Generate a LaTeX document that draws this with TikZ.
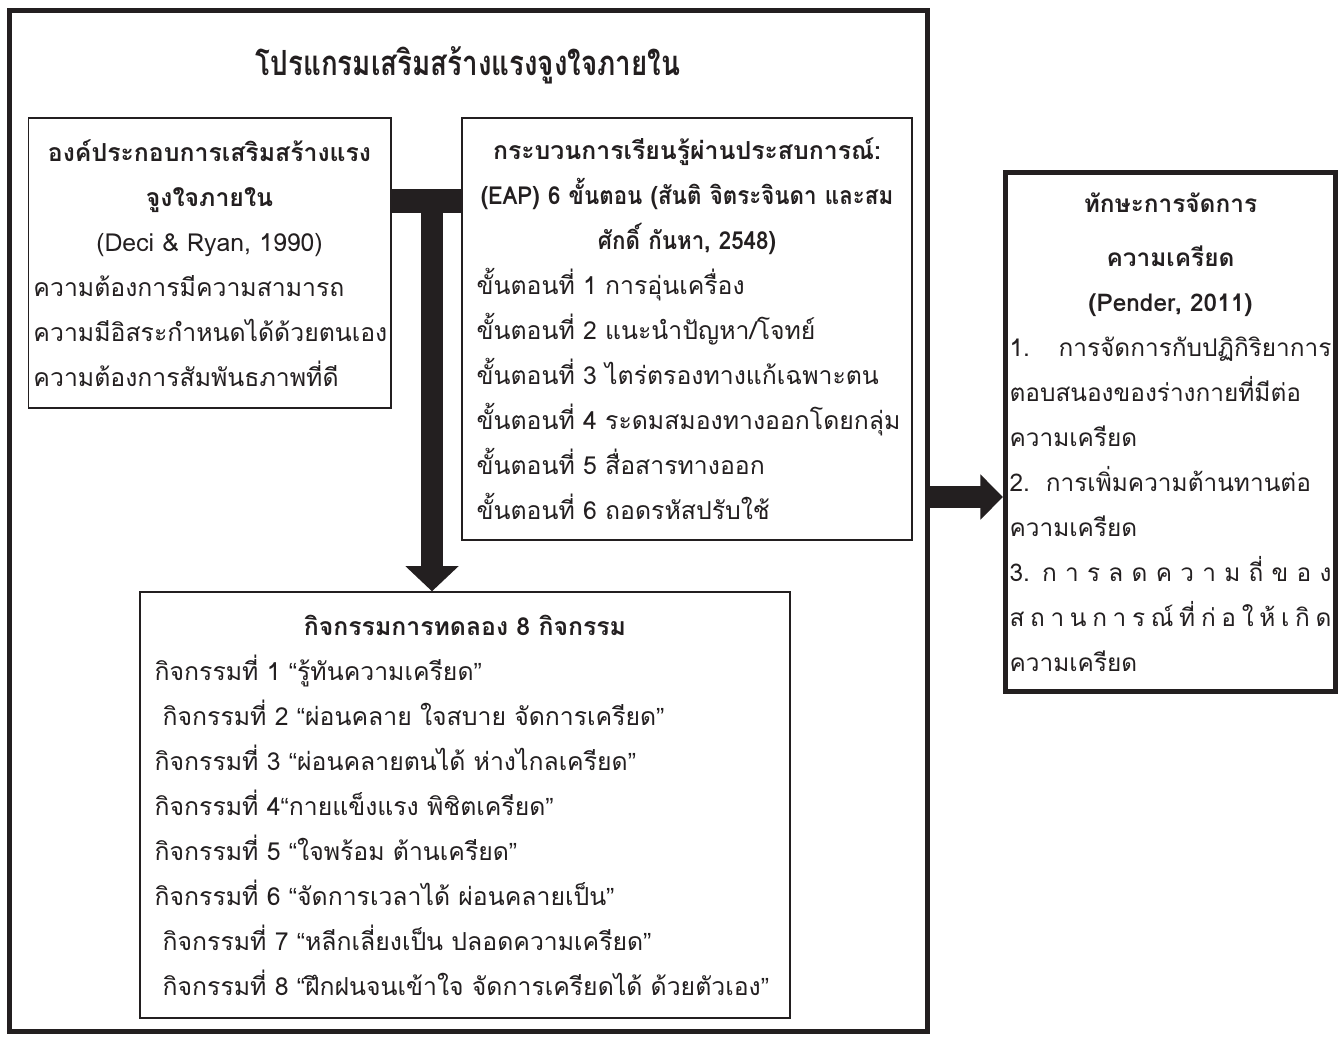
\documentclass[tikz,border=0pt]{standalone}
\usepackage{fontspec}
\newfontfamily\thaifont[Script=Thai]{Loma}
\newfontfamily\thaihead[Script=Thai, FakeStretch=0.9]{Loma}
\newfontfamily\thaititle[Script=Thai, FakeStretch=0.8]{Loma}
\newfontfamily\quotefont{Liberation Sans}
\usetikzlibrary{arrows.meta, positioning, calc}
\definecolor{ink}{HTML}{231F20}
\newcommand{\lline}[1]{\makebox[\hsize][l]{#1}}
\newcommand{\spread}[1]{\makebox[\hsize][s]{\spaceskip=2pt plus 1fil #1}}
\newcommand{\fillgap}{\hspace{6pt plus 1fil}}
\newcommand{\hd}[1]{\mbox{\bfseries #1}}
\newcommand{\hdc}[1]{\mbox{\thaihead\bfseries #1}}
\newcommand{\qo}{{\quotefont “}}
\newcommand{\qc}{{\quotefont ”}}

\begin{document}
\begin{tikzpicture}[
    x=0.75pt, y=-0.75pt,
    font=\thaifont\fontsize{18.6}{33.75}\selectfont,
    box/.style={draw=ink, line width=1pt, inner sep=0pt, inner xsep=11pt,
                align=center, text=ink},
    frame/.style={draw=ink, line width=3.75pt, inner sep=0pt, align=center,
                  text=ink},
    bar/.style={draw=ink, line width=18pt},
    stem/.style={draw=ink, line width=16.5pt,
                 -{Triangle[width=39pt, length=19pt]}},
    push/.style={draw=ink, line width=16pt,
                 -{Triangle[width=33pt, length=17pt]}}
  ]
  \useasboundingbox (0,0) rectangle (1338,1036);

  % program frame and title
  \node[frame, minimum width=688.5pt, minimum height=766pt] (prog)
    at (468.5,521.25) {};
  \node[text=ink, font=\thaititle\bfseries\fontsize{26}{34}\selectfont] (title)
    at (468,65) {โปรแกรมเสริมสร้างแรงจูงใจภายใน};

  % components
  \node[box, inner xsep=4pt, text width=264pt, minimum height=217.5pt] (comp)
    at (209.5,263) {%
    \hd{องค์ประกอบการเสริมสร้างแรง}\\
    \hd{จูงใจภายใน}\\
    (Deci \& Ryan, 1990)\\
    \lline{ความต้องการมีความสามารถ}\\
    \lline{ความมีอิสระกำหนดได้ด้วยตนเอง}\\
    \lline{ความต้องการสัมพันธภาพที่ดี}};

  % EAP steps
  \node[box, text width=315.5pt, minimum height=316.5pt] (eap)
    at (687,329) {%
    \hd{กระบวนการเรียนรู้ผ่านประสบการณ์:}\\
    \hdc{(EAP) 6 ขั้นตอน (สันติ จิตระจินดา และสม}\\
    \hdc{ศักดิ์ กันหา, 2548)}\\
    \lline{ขั้นตอนที่ 1 การอุ่นเครื่อง}\\
    \lline{ขั้นตอนที่ 2 แนะนำปัญหา/โจทย์}\\
    \lline{ขั้นตอนที่ 3 ไตร่ตรองทางแก้เฉพาะตน}\\
    \lline{ขั้นตอนที่ 4 ระดมสมองทางออกโดยกลุ่ม}\\
    \lline{ขั้นตอนที่ 5 สื่อสารทางออก}\\
    \lline{ขั้นตอนที่ 6 ถอดรหัสปรับใช้}};

  % activities
  \node[box, text width=465.5pt, minimum height=319.5pt] (act)
    at (465,805) {%
    \hd{กิจกรรมการทดลอง 8 กิจกรรม}\\
    \lline{กิจกรรมที่ 1 \qo รู้ทันความเครียด\qc}\\
    \lline{\hspace{6pt}กิจกรรมที่ 2 \qo ผ่อนคลาย ใจสบาย จัดการเครียด\qc}\\
    \lline{กิจกรรมที่ 3 \qo ผ่อนคลายตนได้ ห่างไกลเครียด\qc}\\
    \lline{กิจกรรมที่ 4\qo กายแข็งแรง พิชิตเครียด\qc}\\
    \lline{กิจกรรมที่ 5 \qo ใจพร้อม ต้านเครียด\qc}\\
    \lline{กิจกรรมที่ 6 \qo จัดการเวลาได้ ผ่อนคลายเป็น\qc}\\
    \lline{\hspace{6pt}กิจกรรมที่ 7 \qo หลีกเลี่ยงเป็น ปลอดความเครียด\qc}\\
    \lline{\hspace{6pt}กิจกรรมที่ 8 \qo ฝึกฝนจนเข้าใจ จัดการเครียดได้ ด้วยตัวเอง\qc}};

  % stress management skills
  \node[frame, inner xsep=3pt, text width=241.5pt, minimum height=389.6pt,
        font=\thaifont\fontsize{18.3}{33.75}\selectfont]
    (skill) at (1170.5,432.25) {%
    \hd{ทักษะการจัดการ}\\[7pt]
    \hd{ความเครียด}\\
    \hd{(Pender, 2011)}\\
    \makebox[\hsize][s]{1.\fillgap การจัดการกับปฏิกิริยาการ}\\
    \lline{ตอบสนองของร่างกายที่มีต่อ}\\
    \lline{ความเครียด}\\
    \lline{2.\hspace{12pt}การเพิ่มความต้านทานต่อ}\\
    \lline{ความเครียด}\\
    \spread{3. ก า ร ล ด ค ว า ม ถี่ ข อ ง}\\
    \spread{ส ถ า น ก า ร ณ์ ที่ ก่ อ ใ ห้ เ กิ ด}\\
    \lline{ความเครียด}};

  % connectors
  \coordinate (tjoin) at (432,201);
  \coordinate (rjoin) at (930,497);
  \draw[bar] (comp.east |- tjoin) -- (eap.west |- tjoin);
  \draw[stem] (tjoin) -- (tjoin |- act.north);
  \draw[push] (prog.east |- rjoin) -- (skill.west |- rjoin);
\end{tikzpicture}
\end{document}
